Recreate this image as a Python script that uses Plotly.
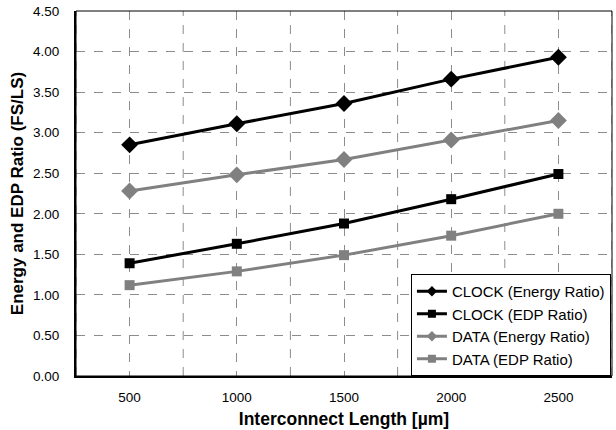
import plotly.graph_objects as go

lengths = [500, 1000, 1500, 2000, 2500]
clock_energy = [2.85, 3.11, 3.36, 3.66, 3.93]
clock_edp = [1.39, 1.63, 1.88, 2.18, 2.49]
data_energy = [2.28, 2.48, 2.67, 2.91, 3.15]
data_edp = [1.12, 1.29, 1.49, 1.73, 2.00]

x_tick_vals = [500, 1000, 1500, 2000, 2500]
x_tick_text = ["500", "1000", "1500", "2000", "2500"]
x_grid_vals = [250, 750, 1250, 1750, 2250, 2750]

FONT = "Liberation Sans"
BLACK = "#000000"
GRAY = "#808080"

series = [
    ("CLOCK (Energy Ratio)", clock_energy, BLACK, "diamond", 13, 8),
    ("CLOCK (EDP Ratio)", clock_edp, BLACK, "square", 10, 8),
    ("DATA (Energy Ratio)", data_energy, GRAY, "diamond", 13, 8),
    ("DATA (EDP Ratio)", data_edp, GRAY, "square", 10, 8),
]

fig = go.Figure()
for i, (name, vals, color, sym, size, lsize) in enumerate(series):
    fig.add_trace(go.Scatter(
        x=lengths, y=vals, name=name, mode="lines+markers",
        line=dict(color=color, width=3),
        marker=dict(symbol=sym, size=size, color=color),
        showlegend=False,
    ))
for i, (name, vals, color, sym, size, lsize) in enumerate(series):
    fig.add_trace(go.Scatter(
        x=[None], y=[None], name=name, mode="lines+markers",
        line=dict(color=color, width=3),
        marker=dict(symbol=sym, size=lsize, color=color),
        legendgroup=f"g{i}", showlegend=True,
    ))

grid_color = "#8c8c8c"
fig.update_layout(
    width=616, height=430,
    margin=dict(l=76, r=4, t=11, b=54),
    paper_bgcolor="white", plot_bgcolor="white",
    font=dict(family=FONT, size=13, color="black"),
    showlegend=True,
    legend=dict(
        x=0.998, y=0.0, xanchor="right", yanchor="bottom",
        bgcolor="white", bordercolor="black", borderwidth=1,
        font=dict(family=FONT, size=15, color="black"),
        tracegroupgap=8, traceorder="normal", itemwidth=30,
    ),
    xaxis=dict(
        range=[250, 2750], tickmode="array", tickvals=x_tick_vals, ticktext=x_tick_text,
        showgrid=True, gridcolor=grid_color, griddash="dash", gridwidth=1,
        showline=True, linecolor="black", linewidth=2,
        zeroline=False, ticks="", ticklabelstandoff=8,
        tickfont=dict(family=FONT, size=13.5),
        title=dict(text="<b>Interconnect Length [µm]</b>", font=dict(family=FONT, size=17.5), standoff=9),
        automargin=False,
    ),
    yaxis=dict(
        range=[0, 4.5], dtick=0.5, tick0=0, tickformat=".2f",
        showgrid=True, gridcolor=grid_color, griddash="dash", gridwidth=1,
        showline=True, linecolor="black", linewidth=2,
        zeroline=False, ticks="", ticklabelstandoff=12,
        tickfont=dict(family=FONT, size=13.5),
        title=dict(text="<b>Energy and EDP Ratio (FS/LS)</b>", font=dict(family=FONT, size=17), standoff=5),
        automargin=False,
    ),
)
for gx in x_grid_vals:
    fig.add_shape(type="line", xref="x", yref="paper", x0=gx, x1=gx, y0=0, y1=1,
                  line=dict(color=grid_color, width=1, dash="dash"), layer="below")
fig.add_shape(type="rect", xref="paper", yref="paper", x0=0, y0=0, x1=1, y1=1,
              line=dict(color="black", width=1), layer="above")

fig.write_html("out.html", config={"displayModeBar": False},
               post_script="document.body.style.margin='0';document.body.style.padding='0';")
